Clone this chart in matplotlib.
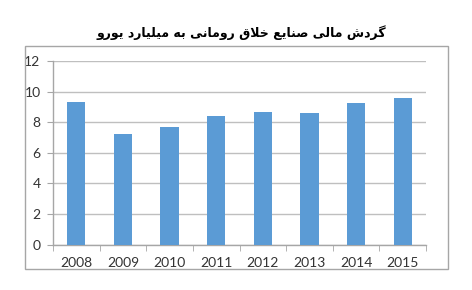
import matplotlib
matplotlib.use("Agg")
import matplotlib.pyplot as plt
from matplotlib.patches import Rectangle
from matplotlib.ticker import FixedLocator, NullFormatter

years = ["2008", "2009", "2010", "2011", "2012", "2013", "2014", "2015"]
turnover = [9.3, 7.2, 7.7, 8.4, 8.65, 8.6, 9.25, 9.6]
title_fa = "گردش مالی صنایع خلاق رومانی به میلیارد یورو"
yticks = [0, 2, 4, 6, 8, 10, 12]

# --- minimal Persian shaping (presentation forms) + RTL reversal ---
FORMS = {
    '\u0627': ('\uFE8D', '\uFE8E', None, None),
    '\u0628': ('\uFE8F', '\uFE90', '\uFE91', '\uFE92'),
    '\u062E': ('\uFEA5', '\uFEA6', '\uFEA7', '\uFEA8'),
    '\u062F': ('\uFEA9', '\uFEAA', None, None),
    '\u0631': ('\uFEAD', '\uFEAE', None, None),
    '\u0634': ('\uFEB5', '\uFEB6', '\uFEB7', '\uFEB8'),
    '\u0635': ('\uFEB9', '\uFEBA', '\uFEBB', '\uFEBC'),
    '\u0639': ('\uFEC9', '\uFECA', '\uFECB', '\uFECC'),
    '\u0642': ('\uFED5', '\uFED6', '\uFED7', '\uFED8'),
    '\u0644': ('\uFEDD', '\uFEDE', '\uFEDF', '\uFEE0'),
    '\u0645': ('\uFEE1', '\uFEE2', '\uFEE3', '\uFEE4'),
    '\u0646': ('\uFEE5', '\uFEE6', '\uFEE7', '\uFEE8'),
    '\u0647': ('\uFEE9', '\uFEEA', '\uFEEB', '\uFEEC'),
    '\u0648': ('\uFEED', '\uFEEE', None, None),
    '\u06CC': ('\uFBFC', '\uFBFD', '\uFBFE', '\uFBFF'),
    '\u06AF': ('\uFB92', '\uFB93', '\uFB94', '\uFB95'),
    '\u0644\u0627': ('\uFEFB', '\uFEFC', None, None),
}


def dual(c):
    return c in FORMS and FORMS[c][2] is not None


def shape(text):
    units = []
    i = 0
    while i < len(text):
        if text[i] == '\u0644' and i + 1 < len(text) and text[i + 1] == '\u0627':
            units.append('\u0644\u0627')
            i += 2
        else:
            units.append(text[i])
            i += 1
    out = []
    for k, u in enumerate(units):
        if u not in FORMS:
            out.append(u)
            continue
        prev = units[k - 1] if k > 0 else None
        nxt = units[k + 1] if k + 1 < len(units) else None
        join_prev = prev is not None and dual(prev)
        join_next = nxt is not None and nxt in FORMS and dual(u)
        iso, fin, ini, med = FORMS[u]
        if join_prev and join_next:
            out.append(med)
        elif join_prev:
            out.append(fin)
        elif join_next:
            out.append(ini)
        else:
            out.append(iso)
    return ''.join(out)[::-1]


W, H = 472, 290
fig = plt.figure(figsize=(W / 100, H / 100), dpi=100)
fig.patch.set_facecolor("white")

# chart border
fig.add_artist(Rectangle((25 / W, 1 - 269 / H), (448 - 25) / W, (269 - 46) / H,
                         transform=fig.transFigure, fill=False,
                         edgecolor="#A6A6A6", linewidth=1.0))

ax = fig.add_axes([53 / W, 1 - 244.5 / H, (426 - 53) / W, (244.5 - 61) / H])
x = list(range(len(years)))
ax.bar(x, turnover, width=0.39, color="#5B9BD5", zorder=3)
ax.set_xlim(-0.5, len(years) - 0.5)
ax.set_ylim(0, 12)
ax.set_yticks(yticks)
ax.yaxis.grid(True, color="#BFBFBF", linewidth=1.0, zorder=0)
ax.set_axisbelow(True)

for s in ["top", "right"]:
    ax.spines[s].set_visible(False)
for s in ["left", "bottom"]:
    ax.spines[s].set_color("#A6A6A6")
    ax.spines[s].set_linewidth(1.0)

ax.set_xticks(x)
ax.set_xticklabels(years)
ax.xaxis.set_minor_locator(FixedLocator([i - 0.5 for i in range(len(years) + 1)]))
ax.xaxis.set_minor_formatter(NullFormatter())
ax.tick_params(axis="x", which="major", length=0, pad=9)
ax.tick_params(axis="x", which="minor", length=4, color="#A6A6A6", direction="out")
ax.tick_params(axis="y", length=4, color="#A6A6A6", pad=5)
for lab in ax.get_xticklabels() + ax.get_yticklabels():
    lab.set_fontfamily("Lato")
    lab.set_fontsize(10)
    lab.set_color("#333333")

fig.text(241 / W, 1 - 33 / H, shape(title_fa), ha="center", va="center",
         fontsize=9, fontweight="bold", family=["DejaVu Sans"], color="black")

fig.savefig("out.png", dpi=100, facecolor="white")
